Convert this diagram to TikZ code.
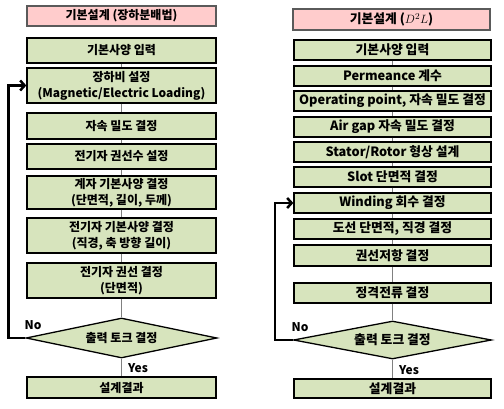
\documentclass[tikz,border=0pt]{standalone}
\usepackage{fontspec}
\setmainfont{Noto Sans CJK KR}
\usetikzlibrary{shapes.geometric,arrows.meta}
\definecolor{flowgreen}{RGB}{215, 228, 189}
\definecolor{flowpink}{RGB}{255, 204, 204}
\definecolor{flowgray}{RGB}{90, 90, 90}
\tikzset{
  stepbox/.style={draw=black, line width=1.3pt, fill=flowgreen, inner sep=0pt,
    align=center, font=\fontsize{12}{16}\selectfont\bfseries},
  widebox/.style={stepbox, minimum width=197pt, minimum height=20pt,
    font=\fontsize{12.8}{16}\selectfont\bfseries},
  titlebox/.style={draw=flowgray, line width=1.5pt, fill=flowpink, inner sep=0pt,
    font=\fontsize{12}{16}\selectfont\bfseries},
  decision/.style={diamond, aspect=4.8, draw=black, line width=1.3pt, fill=flowgreen, inner sep=0pt,
    font=\fontsize{12}{16}\selectfont\bfseries},
  link/.style={draw=gray, line width=0.6pt},
  loopback/.style={draw=black, line width=2.5pt, -{Straight Barb[length=4.5pt,width=10pt]}},
  answer/.style={font=\fontsize{12}{16}\selectfont\bfseries}
}
\begin{document}
\begin{tikzpicture}[x=1pt, y=-1pt]
    \useasboundingbox (0,0) rectangle (504,409);

    % left: 장하분배법
    \node[titlebox, minimum width=189pt, minimum height=20pt] (ltitle) at (121.5,16) {기본설계 (장하분배법)};
    \node[stepbox, minimum width=189pt, minimum height=25pt] (l1) at (121.5,50.5) {기본사양 입력};
    \node[stepbox, minimum width=189pt, minimum height=35pt] (l2) at (121.5,85.5) {장하비 설정\\(Magnetic/Electric Loading)};
    \node[stepbox, minimum width=189pt, minimum height=26pt] (l3) at (121.5,126) {자속 밀도 결정};
    \node[stepbox, minimum width=189pt, minimum height=25pt] (l4) at (121.5,156.5) {전기자 권선수 설정};
    \node[stepbox, minimum width=189pt, minimum height=33pt] (l5) at (121.5,192.5) {계자 기본사양 결정\\(단면적, 길이, 두께)};
    \node[stepbox, minimum width=189pt, minimum height=35pt] (l6) at (121.5,235.5) {전기자 기본사양 결정\\(직경, 축 방향 길이)};
    \node[stepbox, minimum width=189pt, minimum height=35pt] (l7) at (121.5,280.5) {전기자 권선 결정\\(단면적)};
    \node[decision, minimum width=191pt, minimum height=40pt] (ldec) at (121.5,338) {출력 토크 결정};
    \node[stepbox, minimum width=189pt, minimum height=21pt] (lend) at (121.5,387.5) {설계결과};

    % right: D^2L
    \node[titlebox, minimum width=197pt, minimum height=21pt, font=\fontsize{12.8}{16}\selectfont\bfseries] (rtitle) at (391.5,19.5) {기본설계 ($D^2L$)};
    \node[widebox] (r1) at (392.5,50) {기본사양 입력};
    \node[widebox] (r2) at (392.5,76) {Permeance 계수};
    \node[widebox] (r3) at (392.5,101) {Operating point, 자속 밀도 결정};
    \node[widebox] (r4) at (392.5,127) {Air gap 자속 밀도 결정};
    \node[widebox] (r5) at (392.5,152) {Stator/Rotor 형상 설계};
    \node[widebox] (r6) at (392.5,177) {Slot 단면적 결정};
    \node[widebox] (r7) at (392.5,203) {Winding 회수 결정};
    \node[widebox] (r8) at (392.5,229) {도선 단면적, 직경 결정};
    \node[widebox, minimum height=21pt] (r9) at (392.5,255.5) {권선저항 결정};
    \node[widebox] (r10) at (392.5,293) {정격전류 결정};
    \node[decision, minimum width=198pt, minimum height=38pt, font=\fontsize{12.8}{16}\selectfont\bfseries] (rdec) at (392.5,340) {출력 토크 결정};
    \node[widebox, minimum height=19pt] (rend) at (392.5,388.5) {설계결과};

    % connectors
    \foreach \a/\b in {l1/l2, l2/l3, l3/l4, l4/l5, l5/l6, l6/l7, l7/ldec, ldec/lend,
                       r1/r2, r2/r3, r3/r4, r4/r5, r5/r6, r6/r7, r7/r8, r8/r9, r9/r10, r10/rdec, rdec/rend}
        \draw[link] (\a.south) -- (\b.north);

    % No loops
    \draw[loopback] (ldec.west) -- ++(-17,0) |- (l2.west);
    \draw[loopback] (rdec.west) -- ++(-18,0) |- (r7.west);

    \node[answer] (lno) at (33,325) {No};
    \node[answer] (lyes) at (138,368) {Yes};
    \node[answer] (rno) at (300,327) {No};
    \node[answer] (ryes) at (409,370) {Yes};
\end{tikzpicture}
\end{document}
